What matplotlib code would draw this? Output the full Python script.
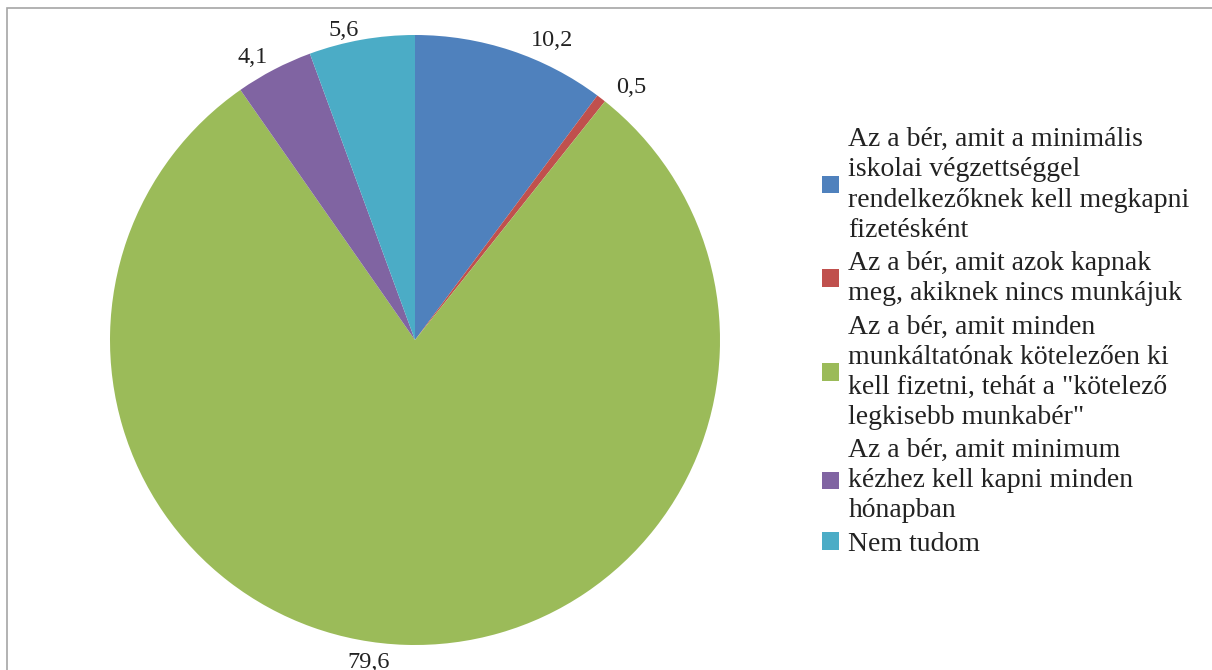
import matplotlib.pyplot as plt
from matplotlib.patches import Rectangle

plt.rcParams['font.family'] = ['Liberation Serif', 'DejaVu Serif']

# ---------- data ----------
categories = [
    "Az a bér, amit a minimális\niskolai végzettséggel\nrendelkezőknek kell megkapni\nfizetésként",
    "Az a bér, amit azok kapnak\nmeg, akiknek nincs munkájuk",
    "Az a bér, amit minden\nmunkáltatónak kötelezően ki\nkell fizetni, tehát a \"kötelező\nlegkisebb munkabér\"",
    "Az a bér, amit minimum\nkézhez kell kapni minden\nhónapban",
    "Nem tudom",
]
values = [10.2, 0.5, 79.6, 4.1, 5.6]
colors = ["#4F81BD", "#C0504D", "#9BBB59", "#8064A2", "#4BACC6"]

value_labels = [f"{v:.1f}".replace(".", ",") for v in values]

# small nudges (in pie radii) so labels sit like the Excel "best fit" ones
label_nudge = [(0.05, -0.01), (0.02, 0.0), (-0.05, -0.012), (0.0, 0.0), (0.0, -0.015)]

fig = plt.figure(figsize=(12.12, 6.7), dpi=100)

# outer chart border (runs off the right and bottom edges)
fig.patches.append(Rectangle((7 / 1212, -0.05), 1.1, 1.05 - 8 / 670,
                             transform=fig.transFigure, fill=False,
                             edgecolor="#A6A6A6", linewidth=1.2))

# ---------- pie ----------
ax = fig.add_axes([110 / 1212, 25 / 670, 610 / 1212, 610 / 670])
wedges, texts = ax.pie(values, colors=colors, startangle=90, counterclock=False,
                       labels=value_labels, labeldistance=1.045,
                       wedgeprops=dict(linewidth=0),
                       textprops=dict(fontsize=17.5, color="#222222"))
for t, (dx, dy) in zip(texts, label_nudge):
    x, y = t.get_position()
    t.set_position((x + dx, y + dy))
ax.set_xlim(-1, 1)
ax.set_ylim(-1, 1)
ax.set_aspect("equal")
ax.axis("off")

# ---------- legend ----------
leg = fig.legend(wedges, categories, loc="center left",
                 bbox_to_anchor=(808 / 1212, 1 - 342 / 670),
                 frameon=False, fontsize=20, handlelength=0.6,
                 handleheight=0.6, handletextpad=0.35, labelspacing=0.3,
                 borderpad=0)
for t in leg.get_texts():
    t.set_linespacing(1.27)
    t.set_color("#222222")

fig.savefig("out.png", dpi=100)
